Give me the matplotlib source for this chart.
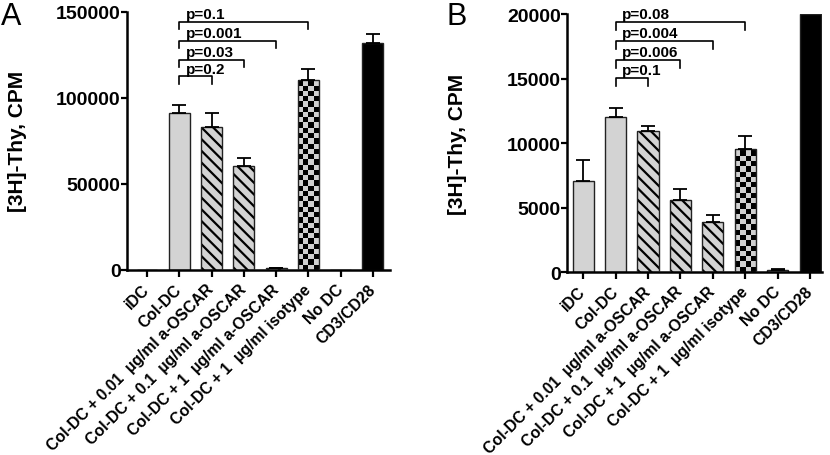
import numpy as np
import matplotlib
matplotlib.use('Agg')
import matplotlib.pyplot as plt
from matplotlib.colors import ListedColormap

plt.rcParams['font.family'] = ['Liberation Sans', 'DejaVu Sans']
plt.rcParams['font.weight'] = 'bold'

categories = ['iDC', 'Col-DC',
              'Col-DC + 0.01  µg/ml a-OSCAR',
              'Col-DC + 0.1  µg/ml a-OSCAR',
              'Col-DC + 1  µg/ml a-OSCAR',
              'Col-DC + 1  µg/ml isotype',
              'No DC', 'CD3/CD28']

# panel A
vals_a = [0, 91000, 83000, 60300, 800, 110500, 0, 131800]
err_a = [0, 5000, 8000, 4800, 200, 6500, 0, 5000]
p_a = ['p=0.2', 'p=0.03', 'p=0.001', 'p=0.1']
brk_a = [112500, 122000, 133300, 144000]

# panel B
vals_b = [7030, 12000, 10950, 5600, 3850, 9510, 150, 20000]
err_b = [1670, 690, 390, 810, 540, 1010, 60, 0]
p_b = ['p=0.1', 'p=0.006', 'p=0.004', 'p=0.08']
brk_b = [15050, 16430, 17900, 19400]

styles = ['plain', 'plain', 'hatch', 'hatch', 'hatch', 'check', 'plain', 'black']
GRAY = '#d3d3d3'

fig = plt.figure(figsize=(8.3, 4.56), dpi=100)
ax_a = fig.add_axes([0.153, 0.406, 0.317, 0.566])
ax_b = fig.add_axes([0.683, 0.401, 0.3076, 0.566])


def hatch_bar(ax, b, step=11.7):
    # diagonal "\" lines, clipped to the bar
    x0, w, h = b.get_x(), b.get_width(), b.get_height()
    (px0, py0), (px1, py1) = ax.transData.transform([(x0, 0), (x0 + w, h)])
    inv = ax.transData.inverted()
    c = py0 - (px1 - px0)
    while c < py1 + (px1 - px0):
        pts = inv.transform([(px0 - 2, c + 2), (px1 + 2, c - (px1 - px0) - 2)])
        ln, = ax.plot(pts[:, 0], pts[:, 1], color='black', lw=1.6,
                      solid_capstyle='butt', zorder=2.5)
        ln.set_clip_path(b)
        c += step


def checker_bar(ax, b, ncol=4):
    x0, w, h = b.get_x(), b.get_width(), b.get_height()
    (px0, py0), (px1, py1) = ax.transData.transform([(x0, 0), (x0 + w, h)])
    sq = (px1 - px0) / ncol
    ny = int(np.ceil((py1 - py0) / sq))
    board = (np.indices((ny, ncol)).sum(axis=0) % 2).astype(float)
    im = ax.imshow(board, cmap=ListedColormap(['#d0d0d0', 'black']),
                   extent=(x0, x0 + w, 0, ny * sq / (py1 - py0) * h),
                   origin='lower', aspect='auto', interpolation='nearest', zorder=2)
    im.set_clip_path(b)


def draw_panel(ax, vals, errs, pvals, levels, ymax, yticks, xlim, drop):
    x = np.arange(len(vals))
    ax.set_xlim(*xlim)
    ax.set_ylim(0, ymax)
    bars = ax.bar(x, vals, width=0.65, color=GRAY, edgecolor='#222222',
                  linewidth=1.0, zorder=2)
    for b, st in zip(bars, styles):
        if st == 'hatch':
            hatch_bar(ax, b)
            b.set_zorder(3)
            b.set_facecolor('none')
            ax.bar(b.get_x() + b.get_width() / 2, b.get_height(), width=b.get_width(),
                   color=GRAY, linewidth=0, zorder=1.9)
        elif st == 'black':
            b.set_facecolor('black')
        elif st == 'check':
            b.set_facecolor('none')
            b.set_zorder(3)
            checker_bar(ax, b)
    for xi, v, e in zip(x, vals, errs):
        if e > 0:
            ax.errorbar(xi, v, yerr=[[0], [e]], fmt='none', ecolor='black',
                        elinewidth=1.3, capsize=5, capthick=1.3, zorder=4)
    ax.set_xlim(*xlim)
    ax.set_ylim(0, ymax)

    # significance brackets from Col-DC
    for j, (p, lv) in enumerate(zip(pvals, levels)):
        xr = j + 2
        ax.plot([1, 1, xr, xr], [lv - drop, lv, lv, lv - drop], color='black',
                lw=1.2, clip_on=False, zorder=5)
        ax.annotate(p, (1.2, lv), xytext=(0, 0.5), textcoords='offset points',
                    ha='left', va='bottom', fontsize=11, fontweight='bold')

    ax.set_yticks(yticks)
    ax.set_yticklabels([str(t) for t in yticks])
    ax.set_xticks(x)
    ax.set_xticklabels(categories, rotation=45, ha='right', va='center',
                       rotation_mode='anchor', fontsize=11.4, fontweight='bold')
    for s in ['top', 'right']:
        ax.spines[s].set_visible(False)
    for s in ['left', 'bottom']:
        ax.spines[s].set_linewidth(1.8)
    ax.tick_params(axis='y', length=4, width=1.6, labelsize=14, pad=0.5)
    ax.tick_params(axis='x', length=5, width=1.6, pad=7)
    for lab in ax.get_yticklabels():
        lab.set_fontweight('bold')
    ax.set_ylabel('[3H]-Thy, CPM', fontsize=15, fontweight='bold')


draw_panel(ax_a, vals_a, err_a, p_a, brk_a, 150000, [0, 50000, 100000, 150000],
           (-0.62, 7.53), 4200)
ax_a.yaxis.set_label_coords(-0.38, 0.5)

draw_panel(ax_b, vals_b, err_b, p_b, brk_b, 20000, [0, 5000, 10000, 15000, 20000],
           (-0.5, 7.37), 600)
ax_b.yaxis.set_label_coords(-0.39, 0.5)

fig.text(0.001, 0.995, 'A', fontsize=22, fontweight='normal', va='top', ha='left')
fig.text(0.538, 0.995, 'B', fontsize=22, fontweight='normal', va='top', ha='left')

fig.savefig('out.png', dpi=100)
